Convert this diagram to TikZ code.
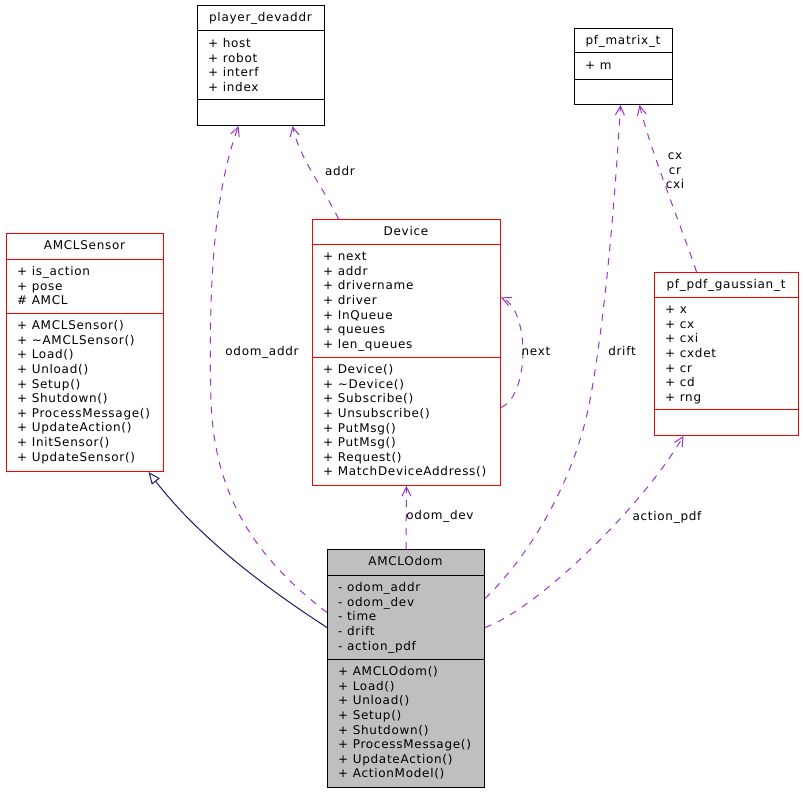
\documentclass[tikz,border=0pt]{standalone}
\usepackage{fontspec}
\setmainfont{DejaVu Sans}[LetterSpace=6]
\usepackage{tikz}
\usetikzlibrary{arrows.meta, positioning}

\definecolor{edgepurple}{HTML}{9A32CD}
\definecolor{edgenavy}{HTML}{191970}
\definecolor{odomgrey}{HTML}{BFBFBF}

\tikzset{
  cls/.style={draw=black, fill=white, anchor=north west, inner sep=0pt, line width=1pt},
  clsred/.style={cls, draw=red},
  ttl/.style={anchor=base, inner sep=0pt},
  mem/.style={anchor=north west, align=left, inner sep=0pt},
  lbl/.style={inner sep=0pt, align=center},
  rel/.style={edgepurple, line width=1pt, dash pattern=on 7pt off 7pt, -{Straight Barb[length=9pt, width=9pt]}},
  inh/.style={edgenavy, line width=1pt, -{Triangle[open, length=12pt, width=10pt, fill=white]}}
}

\begin{document}
\begin{tikzpicture}[x=1pt, y=-1pt, font=\fontsize{12}{14.6}\selectfont]
    \fill[white] (0,0) rectangle (803,792);
    \useasboundingbox (0,0) rectangle (803,792);

    % player_devaddr
    \node[cls, minimum width=127pt, minimum height=120pt] (devaddr) at (197,5) {};
    \draw[line width=1pt] (197,31) -- (324,31) (197,99) -- (324,99);
    \node[ttl] (devaddr-t) at (260.5,21.8) {player\_devaddr};
    \node[mem] (devaddr-a) at (208,37.3) {\strut+ host\\+ robot\\+ interf\\+ index};

    % pf_matrix_t
    \node[cls, minimum width=98pt, minimum height=76pt] (matrix) at (574,28) {};
    \draw[line width=1pt] (574,53) -- (672,53) (574,79) -- (672,79);
    \node[ttl] (matrix-t) at (623,44.8) {pf\_matrix\_t};
    \node[mem] (matrix-a) at (585,59.3) {\strut+ m};

    % AMCLSensor
    \node[clsred, minimum width=157pt, minimum height=238pt] (sensor) at (6,233) {};
    \draw[red, line width=1pt] (6,259) -- (163,259) (6,313) -- (163,313);
    \node[ttl] (sensor-t) at (84.5,249.8) {AMCLSensor};
    \node[mem] (sensor-a) at (17,265.3) {\strut+ is\_action\\+ pose\\\# AMCL};
    \node[mem] (sensor-m) at (17,319.3) {\strut+ AMCLSensor()\\+ \textasciitilde AMCLSensor()\\+ Load()\\+ Unload()\\+ Setup()\\+ Shutdown()\\+ ProcessMessage()\\+ UpdateAction()\\+ InitSensor()\\+ UpdateSensor()};

    % Device
    \node[clsred, minimum width=188pt, minimum height=266pt] (dev) at (312,219) {};
    \draw[red, line width=1pt] (312,244) -- (500,244) (312,357) -- (500,357);
    \node[ttl] (dev-t) at (406,235.8) {Device};
    \node[mem] (dev-a) at (323,250.3) {\strut+ next\\+ addr\\+ drivername\\+ driver\\+ InQueue\\+ queues\\+ len\_queues};
    \node[mem] (dev-m) at (323,363.3) {\strut+ Device()\\+ \textasciitilde Device()\\+ Subscribe()\\+ Unsubscribe()\\+ PutMsg()\\+ PutMsg()\\+ Request()\\+ MatchDeviceAddress()};

    % pf_pdf_gaussian_t
    \node[clsred, minimum width=144pt, minimum height=163pt] (gauss) at (654,272) {};
    \draw[red, line width=1pt] (654,297) -- (798,297) (654,409) -- (798,409);
    \node[ttl] (gauss-t) at (726,288.8) {pf\_pdf\_gaussian\_t};
    \node[mem] (gauss-a) at (665,303.3) {\strut+ x\\+ cx\\+ cxi\\+ cxdet\\+ cr\\+ cd\\+ rng};

    % AMCLOdom
    \node[cls, fill=odomgrey, minimum width=157pt, minimum height=238pt] (odom) at (327,549) {};
    \draw[line width=1pt] (327,575) -- (484,575) (327,659) -- (484,659);
    \node[ttl] (odom-t) at (405.5,565.8) {AMCLOdom};
    \node[mem] (odom-a) at (338,581.3) {\strut- odom\_addr\\- odom\_dev\\- time\\- drift\\- action\_pdf};
    \node[mem] (odom-m) at (338,665.3) {\strut+ AMCLOdom()\\+ Load()\\+ Unload()\\+ Setup()\\+ Shutdown()\\+ ProcessMessage()\\+ UpdateAction()\\+ ActionModel()};

    % relations
    \draw[inh] ([yshift=41pt]odom.west) .. controls (280,597) and (205,545) .. ([xshift=63.5pt]sensor.south);
    \draw[rel] ([yshift=56pt]odom.west) .. controls (265,565) and (214,505) .. (211,400)
        .. controls (208,280) and (215,190) .. ([xshift=-22.5pt]devaddr.south);
    \draw[rel] ([xshift=-68pt]dev.north) .. controls (325,190) and (300,160) .. ([xshift=31.5pt]devaddr.south);
    \draw[rel] (odom.north) -- (dev.south);
    \draw[rel] ([yshift=-55pt]dev.east) .. controls (530,395) and (530,310) .. ([yshift=55pt]dev.east);
    \draw[rel] ([yshift=70pt]odom.east) .. controls (530,555) and (575,480) .. (590,400)
        .. controls (605,320) and (615,200) .. ([xshift=-3pt]matrix.south);
    \draw[rel] ([xshift=-30pt]gauss.north) .. controls (690,250) and (650,150) .. ([xshift=16pt]matrix.south);
    \draw[rel] ([yshift=41pt]odom.east) .. controls (535,610) and (640,510) .. ([xshift=-43pt]gauss.south);

    % labels
    \node[lbl] (l-odomaddr) at (262,352) {odom\_addr};
    \node[lbl] (l-addr) at (340,171) {addr};
    \node[lbl] (l-odomdev) at (440,516) {odom\_dev};
    \node[lbl] (l-next) at (536,351) {next};
    \node[lbl] (l-drift) at (622,351) {drift};
    \node[lbl] (l-cx) at (675,171) {cx\\cr\\cxi};
    \node[lbl] (l-actionpdf) at (667,517) {action\_pdf};
\end{tikzpicture}
\end{document}
